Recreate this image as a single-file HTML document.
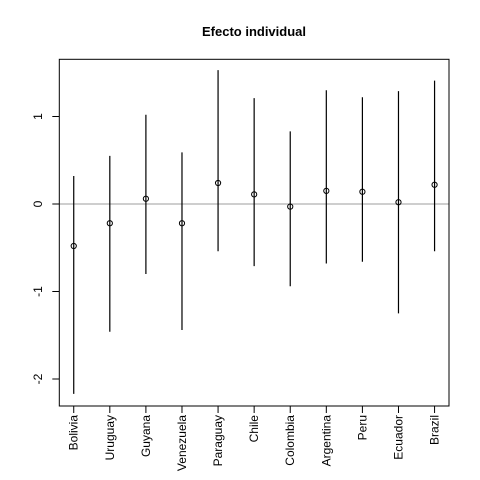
<!DOCTYPE html>
<html><head><meta charset="utf-8"><style>
body{margin:0;background:#fff}
svg{display:block;font-family:"Liberation Sans",Arial,sans-serif}
</style></head><body>
<svg id="chart" width="480" height="480" viewBox="0 0 480 480">
<rect width="480" height="480" fill="#fff"/>
<text x="254" y="36" text-anchor="middle" font-size="13" font-weight="bold">Efecto individual</text>
<g id="plot"></g>
</svg>
<script>
const categories=["Bolivia","Uruguay","Guyana","Venezuela","Paraguay","Chile","Colombia","Argentina","Peru","Ecuador","Brazil"];
const estimates=[-0.48,-0.22,0.06,-0.22,0.24,0.11,-0.03,0.15,0.14,0.02,0.22];
const upper=[0.32,0.55,1.02,0.59,1.53,1.21,0.83,1.30,1.22,1.29,1.41];
const lower=[-2.17,-1.46,-0.80,-1.44,-0.54,-0.71,-0.94,-0.68,-0.66,-1.25,-0.54];
const yTicks=[-2,-1,0,1];
const yTickLabels=["-2","-1","0","1"];
const NS="http://www.w3.org/2000/svg";
const g=document.getElementById('plot');
const L=59.3,R=449,T=59.3,B=406;
const n=categories.length;
const ext=(n-1)*0.04;
function xs(i){return L+(i+ext)/((n-1)+2*ext)*(R-L);}
function ys(v){return 204-87.5*v;}
function mk(t,a){const e=document.createElementNS(NS,t);for(const k in a)e.setAttribute(k,a[k]);g.appendChild(e);return e;}
let e=mk('line',{x1:L,x2:R,y1:ys(0),y2:ys(0),stroke:'#bebebe','stroke-width':1.5});


yTicks.forEach((v,i)=>{
 let t=mk('line',{x1:L-7,x2:L,y1:ys(v),y2:ys(v),stroke:'#000'});
 
 
 let tx=mk('text',{x:0,y:0,'font-size':12,'text-anchor':'middle',transform:`translate(42,${ys(v)}) rotate(-90)`});
 tx.textContent=yTickLabels[i];
 
 
});
categories.forEach((c,i)=>{
 const x=xs(i);
 let l=mk('line',{x1:x,x2:x,y1:ys(upper[i]),y2:ys(lower[i]),stroke:'#000','stroke-width':1.2});
 
 
 let p=mk('circle',{cx:x,cy:ys(estimates[i]),r:2.6,fill:'none',stroke:'#000','stroke-width':1});
 
 
 let t=mk('line',{x1:x,x2:x,y1:B,y2:B+7,stroke:'#000'});
 
 
 let tx=mk('text',{x:0,y:0,'font-size':12,'text-anchor':'end',transform:`translate(${x+4},${B+9}) rotate(-90)`});
 tx.textContent=c;
 
 
});
let box=mk('rect',{x:L,y:T,width:R-L,height:B-T,fill:'none',stroke:'#000'});


</script>
</body></html>
